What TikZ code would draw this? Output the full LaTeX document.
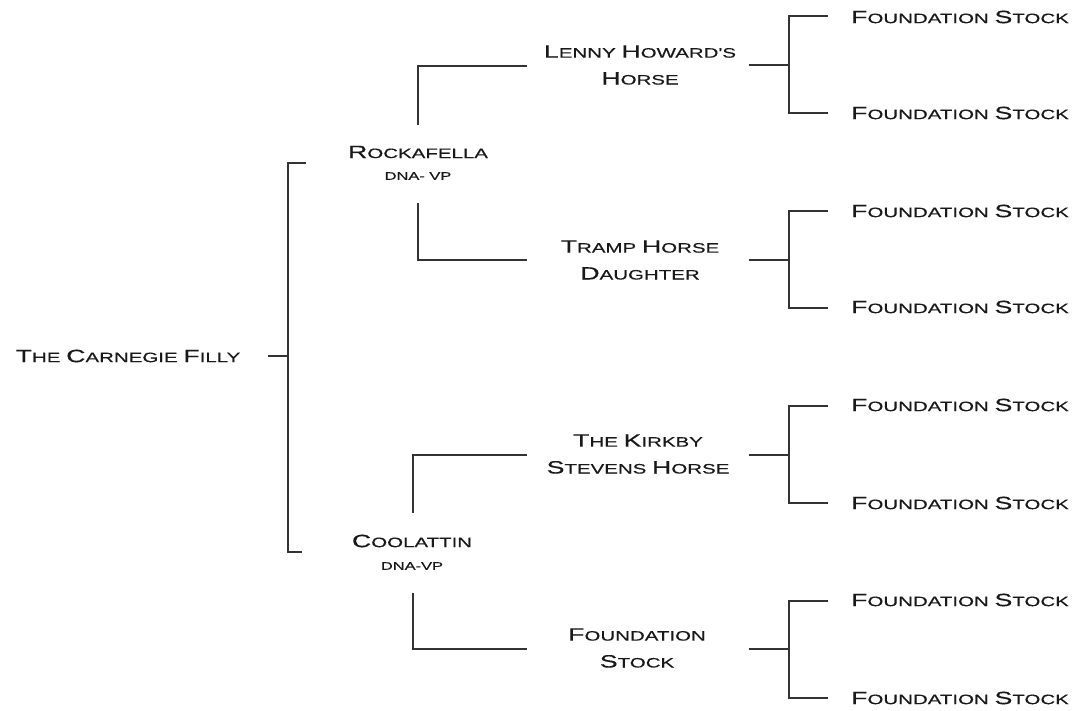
\documentclass[tikz,border=0pt]{standalone}
\usepackage{fontspec}
\newfontfamily\cop[FakeStretch=1.5,FakeBold=0.4]{Liberation Sans}
\newcommand\B[1]{{\fontsize{17.9}{27}\selectfont #1}}
\tikzset{
  lbl/.style={font=\cop\fontsize{13.7}{27}\selectfont, align=center, inner sep=0pt, text=black!90},
  dna/.style={font=\cop\fontsize{11}{12}\selectfont, inner sep=0pt, text=black!90},
  ln/.style={line width=1.3bp, black!80}
}
\begin{document}
\begin{tikzpicture}[x=1bp,y=-1bp]
\useasboundingbox (0,0) rectangle (1075,711);
% nodes
\node[lbl] (root) at (128,356) {\B{T}HE \B{C}ARNEGIE \B{F}ILLY};
\node[lbl] (rock) at (418,152) {\B{R}OCKAFELLA};
\node[dna] (rockd) at (418,176) {DNA- VP};
\node[lbl] (cool) at (412,541) {\B{C}OOLATTIN};
\node[dna] (coold) at (412,566) {DNA-VP};
\node[lbl] (lenny) at (640,65) {\B{L}ENNY \B{H}OWARD'S\\\B{H}ORSE};
\node[lbl] (tramp) at (640,260) {\B{T}RAMP \B{H}ORSE\\\B{D}AUGHTER};
\node[lbl] (kirk) at (638,454) {\B{T}HE \B{K}IRKBY\\\B{S}TEVENS \B{H}ORSE};
\node[lbl] (fs) at (637,648) {\B{F}OUNDATION\\\B{S}TOCK};
\foreach \i/\y in {1/17,2/113,3/211,4/307,5/405,6/503,7/600,8/698}
  \node[lbl] (leaf\i) at (960,\y) {\B{F}OUNDATION \B{S}TOCK};
% root bracket
\coordinate (r0) at (268,356);
\coordinate (rb) at (288,356);
\coordinate (rt) at (306,163);
\coordinate (rbt) at (302,552);
\draw[ln] (r0) -- (rb);
\draw[ln] (rt) -- (288,163) -- (288,552) -- (rbt);
% Rockafella
\coordinate (ra) at (418,125);
\coordinate (rc) at (418,203);
\coordinate (l0) at (527,66);
\coordinate (t0) at (527,260);
\draw[ln] (ra) |- (l0);
\draw[ln] (rc) |- (t0);
% Coolattin
\coordinate (ca) at (413,513);
\coordinate (cc) at (413,593);
\coordinate (k0) at (527,455);
\coordinate (f0) at (527,649);
\draw[ln] (ca) |- (k0);
\draw[ln] (cc) |- (f0);
% right brackets
\foreach \m/\a/\b in {65/16/113,260/211/308,455/406/503,649/601/698}{
  \draw[ln] (749,\m) -- (789,\m);
  \draw[ln] (828,\a) -- (789,\a) -- (789,\b) -- (828,\b);
}
\end{tikzpicture}
\end{document}
